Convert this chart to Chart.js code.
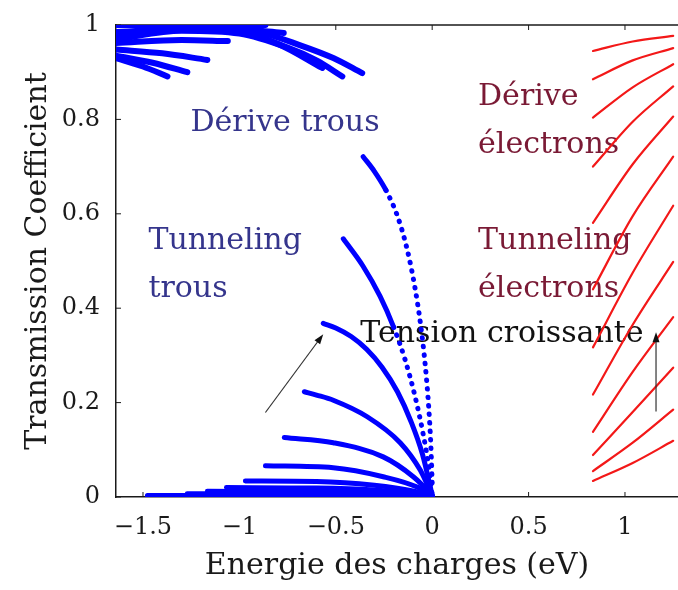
<!DOCTYPE html>
<html>
<head>
<meta charset="utf-8">
<script src="https://cdn.jsdelivr.net/npm/chart.js@4.4.0/dist/chart.umd.min.js"></script>
<style>
  html, body { margin: 0; padding: 0; background: #fff; }
</style>
</head>
<body>
<canvas id="chart" width="678" height="590"></canvas>
<script>
// tick labels
const xTicks = [-1.5, -1, -0.5, 0, 0.5, 1];
const yTicks = [0, 0.2, 0.4, 0.6, 0.8, 1];

// holes, drift part (top left band)
const driftHoleX = [
  [-1.64, -0.865],
  [-1.64, -1.2, -0.95, -0.77],
  [-1.64, -1.3, -1.0, -0.8, -0.57],
  [-1.64, -1.3, -1.0, -0.75, -0.6, -0.466],
  [-1.64, -1.2, -0.9, -0.684, -0.513, -0.363],
  [-1.64, -1.3, -1.06],
  [-1.64, -1.4, -1.166],
  [-1.64, -1.45, -1.27],
  [-1.64, -1.5, -1.373]
];
const driftHoleY = [
  [1.0, 1.0],
  [0.985, 0.993, 0.99, 0.983],
  [0.975, 0.99, 0.985, 0.96, 0.909],
  [0.97, 0.988, 0.982, 0.952, 0.925, 0.891],
  [0.98, 0.995, 0.985, 0.957, 0.93, 0.898],
  [0.962, 0.968, 0.966],
  [0.948, 0.94, 0.926],
  [0.935, 0.92, 0.90],
  [0.93, 0.912, 0.891]
];

// holes, curves falling to zero at E = 0
const tunnelHoleX = [
  [-0.358, -0.30, -0.24, -0.18, -0.13, -0.09, -0.06, -0.035, -0.018, -0.007, 0],
  [-0.461, -0.36, -0.27, -0.20, -0.14, -0.09, -0.05, -0.02, 0],
  [-0.565, -0.50, -0.42, -0.34, -0.26, -0.18, -0.11, -0.05, 0],
  [-0.663, -0.60, -0.513, -0.337, -0.166, -0.062, 0],
  [-0.767, -0.513, -0.254, -0.098, -0.02, 0],
  [-0.865, -0.513, -0.254, -0.078, 0],
  [-0.969, -0.6, -0.3, -0.1, 0],
  [-1.067, -0.6, -0.3, -0.1, 0],
  [-1.166, -0.6, -0.2, 0],
  [-1.27, -0.5, 0],
  [-1.477, -0.5, 0]
];
const tunnelHoleY = [
  [0.721, 0.69, 0.65, 0.595, 0.525, 0.445, 0.365, 0.275, 0.19, 0.11, 0.03],
  [0.547, 0.49, 0.425, 0.36, 0.29, 0.215, 0.14, 0.07, 0.005],
  [0.368, 0.358, 0.34, 0.313, 0.275, 0.223, 0.16, 0.09, 0.004],
  [0.223, 0.216, 0.205, 0.170, 0.115, 0.057, 0.003],
  [0.126, 0.115, 0.085, 0.043, 0.012, 0.002],
  [0.066, 0.062, 0.043, 0.021, 0.002],
  [0.034, 0.033, 0.025, 0.013, 0.002],
  [0.020, 0.019, 0.015, 0.008, 0.002],
  [0.012, 0.011, 0.008, 0.002],
  [0.007, 0.006, 0.001],
  [0.003, 0.003, 0.001]
];
// below this level the curve shows as separate dots
const dottedBelow = [0.6, 0.3];

// electrons (right side), one value per curve at each energy
const elecX = [0.834, 1.04, 1.25];
const elecLeft  = [0.945, 0.885, 0.804, 0.70, 0.581, 0.44, 0.317, 0.217, 0.138, 0.089, 0.055, 0.034];
const elecMid   = [0.965, 0.925, 0.868, 0.795, 0.705, 0.595, 0.475, 0.365, 0.265, 0.18, 0.115, 0.072];
const elecRight = [0.977, 0.951, 0.917, 0.870, 0.806, 0.721, 0.617, 0.498, 0.381, 0.274, 0.185, 0.119];

const BLUE = '#0000ff';
const RED = '#f31818';
const AXIS = '#1a1a1a';
const FONT = '"DejaVu Serif", "Liberation Serif", serif';

function curve(xs, ys, color, width, dotBelow) {
  const ds = {
    data: xs.map((v, i) => ({ x: v, y: ys[i] })),
    showLine: true,
    borderColor: color,
    borderWidth: width,
    pointRadius: 0,
    cubicInterpolationMode: 'monotone',
    borderCapStyle: 'round',
    borderJoinStyle: 'round'
  };
  if (dotBelow) {
    ds.segment = { borderDash: c => (c.p1.parsed.y < dotBelow ? [0.5, 8] : undefined) };
  }
  return ds;
}

const datasets = [];
driftHoleX.forEach((xs, i) => datasets.push(curve(xs, driftHoleY[i], BLUE, 6)));
tunnelHoleX.forEach((xs, i) => datasets.push(curve(xs, tunnelHoleY[i], BLUE, 5, dottedBelow[i])));
elecLeft.forEach((v, i) => datasets.push(curve(elecX, [v, elecMid[i], elecRight[i]], RED, 2.2)));

// text labels: [text, left x, middle y, colour] in data units
const notes = [
  ['Dérive trous', -1.254, 0.792, '#35358c'],
  ['Tunneling', -1.472, 0.543, '#35358c'],
  ['trous', -1.472, 0.441, '#35358c'],
  ['Dérive', 0.238, 0.847, '#7a1a35'],
  ['électrons', 0.238, 0.745, '#7a1a35'],
  ['Tunneling', 0.238, 0.543, '#7a1a35'],
  ['électrons', 0.238, 0.441, '#7a1a35'],
  ['Tension croissante', -0.373, 0.345, '#111']
];
const arrows = [
  [-0.865, 0.179, -0.565, 0.345],
  [1.161, 0.181, 1.161, 0.349]
];

const decorations = {
  id: 'decorations',
  beforeDatasetsDraw(chart) {
    const { ctx, chartArea: a, scales: { x, y } } = chart;
    ctx.save();
    // top frame line + inner ticks
    ctx.strokeStyle = AXIS;
    ctx.lineWidth = 1.5;
    ctx.beginPath();
    ctx.moveTo(a.left, a.top);
    ctx.lineTo(a.right, a.top);
    ctx.stroke();
    ctx.lineWidth = 1;
    ctx.beginPath();
    xTicks.forEach(v => {
      const px = x.getPixelForValue(v);
      ctx.moveTo(px, a.bottom); ctx.lineTo(px, a.bottom - 5);
      ctx.moveTo(px, a.top); ctx.lineTo(px, a.top + 5);
    });
    yTicks.forEach(v => {
      const py = y.getPixelForValue(v);
      ctx.moveTo(a.left, py); ctx.lineTo(a.left + 5, py);
    });
    ctx.stroke();

    ctx.font = '30px ' + FONT;
    ctx.textBaseline = 'middle';
    notes.forEach(([t, nx, ny, col]) => {
      ctx.fillStyle = col;
      ctx.fillText(t, x.getPixelForValue(nx), y.getPixelForValue(ny));
    });
    ctx.restore();
  },
  afterDatasetsDraw(chart) {
    const { ctx, scales: { x, y } } = chart;
    ctx.save();
    ctx.strokeStyle = '#333';
    ctx.fillStyle = '#111';
    ctx.lineWidth = 1.2;
    arrows.forEach(([x0, y0, x1, y1]) => {
      const ax = x.getPixelForValue(x0), ay = y.getPixelForValue(y0);
      const bx = x.getPixelForValue(x1), by = y.getPixelForValue(y1);
      const ang = Math.atan2(by - ay, bx - ax);
      ctx.beginPath();
      ctx.moveTo(ax, ay);
      ctx.lineTo(bx - 6 * Math.cos(ang), by - 6 * Math.sin(ang));
      ctx.stroke();
      ctx.beginPath();
      ctx.moveTo(bx, by);
      ctx.lineTo(bx - 10 * Math.cos(ang) + 3.5 * Math.sin(ang), by - 10 * Math.sin(ang) - 3.5 * Math.cos(ang));
      ctx.lineTo(bx - 10 * Math.cos(ang) - 3.5 * Math.sin(ang), by - 10 * Math.sin(ang) + 3.5 * Math.cos(ang));
      ctx.closePath();
      ctx.fill();
    });
    ctx.restore();
  }
};

const fmt = v => (v < 0 ? '\u2212' + Math.abs(v) : String(v));

new Chart(document.getElementById('chart').getContext('2d'), {
  type: 'scatter',
  data: { datasets },
  options: {
    responsive: false,
    animation: false,
    layout: { padding: { top: 25, right: 0, left: 0, bottom: 0 } },
    plugins: { legend: { display: false }, tooltip: { enabled: false } },
    scales: {
      x: {
        type: 'linear',
        min: -1.64,
        max: 1.275,
        afterBuildTicks: s => { s.ticks = xTicks.map(v => ({ value: v })); },
        afterFit: s => { s.height = 93; },
        grid: { display: false },
        border: { display: true, color: AXIS, width: 1.5 },
        ticks: { font: { family: FONT, size: 24 }, color: AXIS, padding: 8, maxRotation: 0, callback: fmt },
        title: {
          display: true, text: 'Energie des charges (eV)', color: AXIS,
          font: { family: FONT, size: 30 }, padding: { top: 0, bottom: 6 }
        }
      },
      y: {
        type: 'linear',
        min: 0,
        max: 1,
        afterBuildTicks: s => { s.ticks = yTicks.map(v => ({ value: v })); },
        afterFit: s => { s.width = 116; },
        grid: { display: false },
        border: { display: true, color: AXIS, width: 1.5 },
        ticks: { font: { family: FONT, size: 24 }, color: AXIS, padding: 8, callback: fmt },
        title: {
          display: true, text: 'Transmission Coefficient', color: AXIS,
          font: { family: FONT, size: 30 }, padding: { top: 20, bottom: 0 }
        }
      }
    }
  },
  plugins: [decorations]
});
</script>
</body>
</html>
